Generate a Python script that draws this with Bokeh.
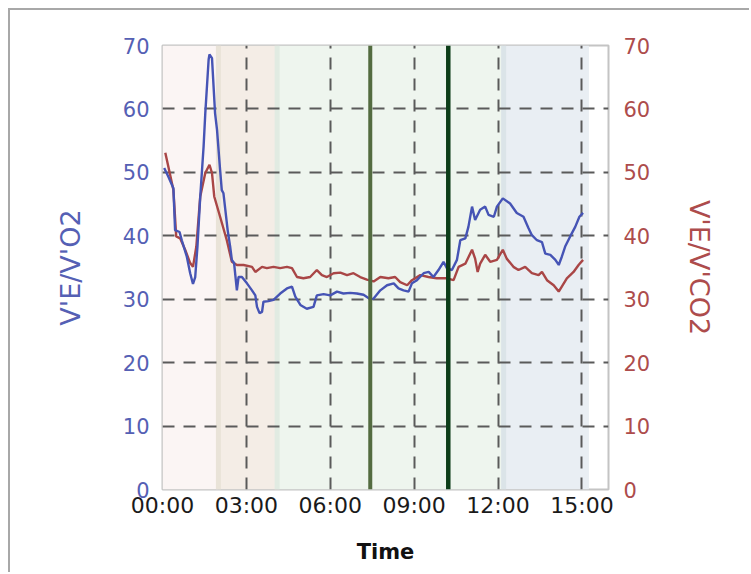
from bokeh.plotting import figure
from bokeh.models import Range1d, LinearAxis, FixedTicker, ColumnDataSource, Span
from bokeh.embed import file_html
from bokeh.resources import INLINE

# ---- data (time in minutes) ----
time_o2 = [0.06, 0.21, 0.39, 0.45, 0.61, 0.69, 0.87, 0.99, 1.09, 1.17,
           1.25, 1.35, 1.47, 1.53, 1.65, 1.68, 1.77, 1.88, 1.95, 2.06,
           2.12, 2.18, 2.33, 2.42, 2.48, 2.56, 2.66, 2.72, 2.84, 3.02,
           3.2, 3.32, 3.38, 3.47, 3.56, 3.61, 3.79, 3.97, 4.21, 4.45,
           4.63, 4.75, 4.93, 5.16, 5.4, 5.52, 5.76, 6.0, 6.24, 6.47,
           6.71, 6.95, 7.19, 7.43, 7.55, 7.79, 8.03, 8.27, 8.44, 8.62,
           8.8, 8.92, 9.1, 9.34, 9.52, 9.69, 9.87, 10.05, 10.17, 10.35,
           10.53, 10.65, 10.83, 10.94, 11.07, 11.18, 11.36, 11.54, 11.66, 11.85,
           11.96, 12.17, 12.43, 12.67, 12.91, 13.09, 13.21, 13.39, 13.57, 13.69,
           13.87, 14.05, 14.17, 14.28, 14.4, 14.58, 14.76, 14.91, 15.04]
ve_vo2 = [50.7, 49.3, 47.5, 40.9, 40.6, 39.3, 36.7, 34.1, 32.4, 33.5,
          38.3, 46.2, 54.1, 59.3, 67.8, 68.6, 68.0, 59.3, 56.7, 50.4,
          47.2, 46.7, 40.9, 38.3, 36.2, 35.7, 31.4, 33.5, 33.5, 32.5,
          31.4, 30.6, 28.8, 27.8, 28.0, 29.6, 29.7, 29.9, 30.9, 31.7,
          32.0, 30.4, 29.1, 28.5, 28.8, 30.6, 30.8, 30.6, 31.2, 30.9,
          31.0, 30.9, 30.7, 30.0, 30.1, 31.4, 32.2, 32.5, 31.7, 31.4,
          31.2, 32.5, 33.0, 34.1, 34.3, 33.5, 34.6, 35.9, 34.9, 34.6,
          36.2, 39.3, 39.6, 41.4, 44.6, 42.5, 44.1, 44.6, 43.3, 43.0,
          44.6, 45.9, 45.1, 43.6, 43.0, 41.2, 40.1, 39.3, 39.0, 37.2,
          37.0, 36.2, 35.4, 36.7, 38.3, 39.9, 41.4, 43.0, 43.6]

time_co2 = [0.1, 0.21, 0.39, 0.49, 0.63, 0.81, 0.99, 1.09, 1.21, 1.35,
            1.53, 1.68, 1.77, 1.85, 2.06, 2.3, 2.48, 2.66, 2.9, 3.2,
            3.32, 3.56, 3.73, 3.97, 4.21, 4.45, 4.63, 4.81, 5.04, 5.28,
            5.52, 5.7, 5.88, 6.12, 6.36, 6.6, 6.83, 7.07, 7.31, 7.55,
            7.79, 8.08, 8.32, 8.5, 8.75, 8.92, 9.22, 9.51, 9.81, 10.17,
            10.41, 10.59, 10.83, 11.07, 11.18, 11.27, 11.36, 11.54, 11.72, 11.96,
            12.17, 12.31, 12.55, 12.73, 12.97, 13.21, 13.45, 13.57, 13.75, 13.99,
            14.17, 14.28, 14.46, 14.7, 14.88, 15.04]
ve_vco2 = [53.1, 50.9, 47.2, 39.9, 39.6, 37.8, 35.7, 35.1, 38.3, 46.2,
           49.9, 51.2, 49.9, 46.2, 43.0, 39.3, 35.9, 35.4, 35.4, 35.1,
           34.3, 35.1, 34.9, 35.1, 34.9, 35.1, 34.9, 33.5, 33.3, 33.5,
           34.6, 33.8, 33.5, 34.1, 34.2, 33.8, 34.1, 33.5, 33.1, 32.8,
           33.5, 33.3, 33.5, 32.7, 32.2, 33.0, 33.8, 33.5, 33.3, 33.3,
           33.0, 35.1, 35.6, 37.8, 36.4, 34.3, 35.6, 37.0, 35.9, 36.2,
           37.8, 36.4, 35.1, 34.6, 35.1, 34.1, 33.8, 34.3, 33.0, 32.2,
           31.2, 32.0, 33.3, 34.3, 35.4, 36.2]

x_ticks = [0, 3, 6, 9, 12, 15]
x_tick_labels = ["00:00", "03:00", "06:00", "09:00", "12:00", "15:00"]
y_ticks = [0, 10, 20, 30, 40, 50, 60, 70]

phase_start = [0.0, 2.0, 4.1, 12.2]
phase_end = [2.0, 4.1, 12.2, 15.25]
phase_colors = ["#fbf5f4", "#f4ede6", "#eef5ee", "#e9eef3"]
phase_edge_colors = ["#f4eeec", "#e9e3d8", "#e1ebe2", "#dbe4e8"]

marker_times = [7.43, 10.22]
marker_colors = ["#536b40", "#0c3d18"]
marker_widths = [4, 4.5]

# ---- figure ----
p = figure(width=741, height=564, output_backend="svg", toolbar_location=None,
           x_range=Range1d(0, 15.95), y_range=Range1d(0, 70),
           min_border_left=152, min_border_right=143,
           min_border_top=35, min_border_bottom=85,
           background_fill_color="white", border_fill_color="white",
           styles={"margin-left": "8px", "margin-top": "8px",
                   "border-top": "2px solid #a8a8a8", "border-left": "2px solid #a8a8a8"})
p.xaxis.visible = False
p.yaxis.visible = False
p.outline_line_color = "#c4c4c4"
p.outline_line_width = 2

# phase bands
band_src = ColumnDataSource(dict(left=phase_start, right=phase_end,
                                 color=phase_colors, edge=phase_edge_colors))
p.quad(left="left", right="right", bottom=0, top=70, fill_color="color",
       line_color=None, source=band_src, level="image")
for s, c in zip(phase_start[1:], phase_edge_colors[1:]):
    p.add_layout(Span(location=s, dimension="height", line_color=c,
                      line_width=5, level="image"))

# grid
for g in (p.xgrid, p.ygrid):
    g.grid_line_color = "#5a5a5a"
    g.grid_line_width = 2
    g.grid_line_dash = "12 9"
p.xgrid.ticker = FixedTicker(ticks=x_ticks)
p.ygrid.ticker = FixedTicker(ticks=y_ticks)

p.extra_y_ranges = {"co2": Range1d(0, 70)}

def style_axis(ax, color, size):
    ax.axis_line_color = None
    ax.major_tick_line_color = None
    ax.minor_tick_line_color = None
    ax.major_tick_out = 0
    ax.major_tick_in = 0
    ax.minor_tick_out = 0
    ax.minor_tick_in = 0
    ax.major_label_text_color = color
    ax.major_label_text_font = "DejaVu Sans"
    ax.major_label_text_font_size = size
    ax.axis_label_text_font = "DejaVu Sans"
    ax.axis_label_text_font_style = "normal"

left = LinearAxis(ticker=FixedTicker(ticks=y_ticks), axis_label="V'E/V'O2")
style_axis(left, "#5560b4", "21px")
left.axis_label_text_color = "#5560b4"
left.axis_label_text_font_size = "27px"
left.major_label_standoff = 13
left.axis_label_standoff = 34
p.add_layout(left, "left")

right = LinearAxis(y_range_name="co2", ticker=FixedTicker(ticks=y_ticks), axis_label="V'E/V'CO2")
style_axis(right, "#ad4c4c", "21px")
right.axis_label_text_color = "#ad4c4c"
right.axis_label_text_font_size = "27px"
right.major_label_standoff = 15
right.axis_label_standoff = 31
p.add_layout(right, "right")

bottom = LinearAxis(ticker=FixedTicker(ticks=x_ticks), axis_label="Time")
style_axis(bottom, "#1a1a1a", "22px")
bottom.major_label_overrides = {t: l for t, l in zip(x_ticks, x_tick_labels)}
bottom.axis_label_text_color = "#111111"
bottom.axis_label_text_font_size = "21px"
bottom.axis_label_text_font_style = "bold"
bottom.major_label_standoff = 3
bottom.axis_label_standoff = 19
p.add_layout(bottom, "below")

# series
p.line(time_co2, ve_vco2, line_color="#a94646", line_width=2.4, y_range_name="co2")
p.line(time_o2, ve_vo2, line_color="#4654b5", line_width=2.4)

# event markers
for t, c, w in zip(marker_times, marker_colors, marker_widths):
    p.add_layout(Span(location=t, dimension="height", line_color=c, line_width=w))

open("out.html", "w").write(file_html(p, INLINE))
